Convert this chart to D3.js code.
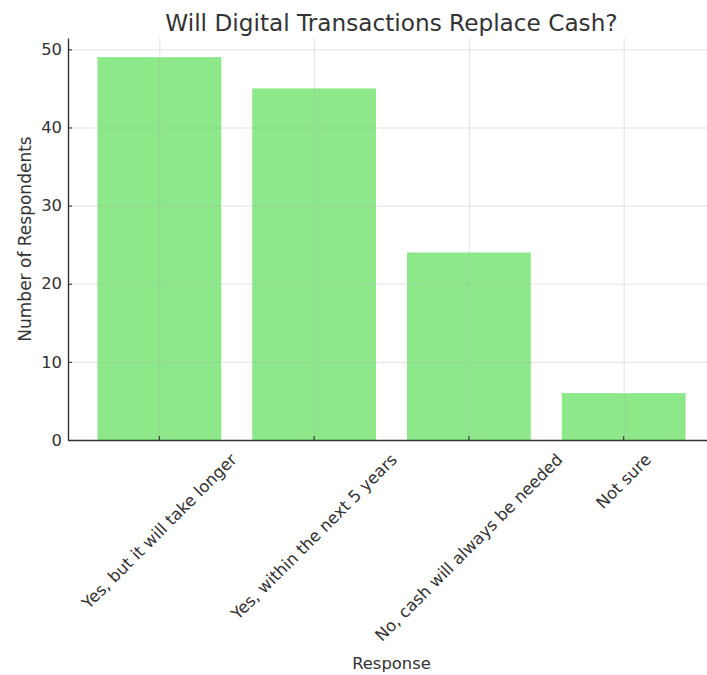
<!DOCTYPE html>
<html>
<head>
<meta charset="utf-8">
<script src="https://cdn.jsdelivr.net/npm/d3@7"></script>
<style>
  html, body { margin: 0; padding: 0; background: #fff; }
  svg { display: block; }
  text { font-family: "DejaVu Sans", sans-serif; fill: #333; }
</style>
</head>
<body>
<svg id="chart" width="707" height="675"></svg>
<script>
// Survey responses
const categories = [
  "Yes, but it will take longer",
  "Yes, within the next 5 years",
  "No, cash will always be needed",
  "Not sure"
];
const respondents = [49, 45, 24, 6];
const yTicks = [0, 10, 20, 30, 40, 50];

const title = "Will Digital Transactions Replace Cash?";
const xLabel = "Response";
const yLabel = "Number of Respondents";

const svg = d3.select("#chart");
const plot = { left: 68, right: 715, top: 38, bottom: 440 };
const fontSize = 16.4;

const x = d3.scaleBand()
  .domain(categories)
  .range([plot.left, plot.right])
  .paddingInner(0.2)
  .paddingOuter(0.19);

const yMax = d3.max(respondents) * 1.05;
const y = d3.scaleLinear().domain([0, yMax]).range([plot.bottom, plot.top]);

// bars
svg.append("g")
  .selectAll("rect")
  .data(categories)
  .join("rect")
  .attr("x", d => x(d))
  .attr("width", x.bandwidth())
  .attr("y", (d, i) => y(respondents[i]))
  .attr("height", (d, i) => y(0) - y(respondents[i]))
  .attr("fill", "#8de88a");

// grid lines, drawn over the bars with low opacity
const grid = svg.append("g").attr("stroke", "#b0b0b0").attr("stroke-opacity", 0.35).attr("stroke-width", 1);
grid.selectAll("line.h")
  .data(yTicks)
  .join("line")
  .attr("class", "h")
  .attr("x1", plot.left).attr("x2", plot.right)
  .attr("y1", d => y(d) + 0.5).attr("y2", d => y(d) + 0.5);
grid.selectAll("line.v")
  .data(categories)
  .join("line")
  .attr("class", "v")
  .attr("x1", d => x(d) + x.bandwidth() / 2 + 0.5)
  .attr("x2", d => x(d) + x.bandwidth() / 2 + 0.5)
  .attr("y1", plot.top).attr("y2", plot.bottom);

// y axis
const yAxis = d3.axisLeft(y).tickValues(yTicks).tickSizeInner(-4).tickSizeOuter(0).tickPadding(6);
const gy = svg.append("g")
  .attr("transform", `translate(${plot.left},0)`)
  .call(yAxis);
gy.select(".domain").attr("stroke", "#333").attr("stroke-width", 1.4);
gy.selectAll(".tick line").attr("stroke", "#333").attr("stroke-width", 1.1);
gy.selectAll(".tick text")
  .attr("font-size", fontSize)
  .attr("font-family", "DejaVu Sans")
  .attr("fill", "#333");

// x axis
const xAxis = d3.axisBottom(x).tickSizeInner(-4).tickSizeOuter(0).tickFormat("");
const gx = svg.append("g")
  .attr("transform", `translate(0,${plot.bottom})`)
  .call(xAxis);
gx.select(".domain").attr("stroke", "#333").attr("stroke-width", 1.4);
gx.selectAll(".tick line").attr("stroke", "#333").attr("stroke-width", 1.1);

// rotated category labels, box centred under each tick
const labelTop = plot.bottom + 10;
const lineH = fontSize * 1.17;
const labels = svg.append("g");
categories.forEach(c => {
  const t = labels.append("text")
    .attr("font-size", fontSize)
    .attr("text-anchor", "middle")
    .attr("dominant-baseline", "central")
    .text(c);
  const L = t.node().getComputedTextLength();
  const half = (L + lineH) / (2 * Math.SQRT2);
  const cx = x(c) + x.bandwidth() / 2;
  t.attr("transform", `translate(${cx},${labelTop + half}) rotate(-45)`);
});

// title and axis labels
svg.append("text")
  .attr("x", (plot.left + plot.right) / 2)
  .attr("y", 31)
  .attr("text-anchor", "middle")
  .attr("font-size", 23.2)
  .text(title);

svg.append("text")
  .attr("x", (plot.left + plot.right) / 2)
  .attr("y", 669)
  .attr("text-anchor", "middle")
  .attr("font-size", fontSize)
  .text(xLabel);

svg.append("text")
  .attr("transform", `translate(25,${(plot.top + plot.bottom) / 2}) rotate(-90)`)
  .attr("text-anchor", "middle")
  .attr("dominant-baseline", "central")
  .attr("font-size", 17)
  .text(yLabel);
</script>
</body>
</html>
